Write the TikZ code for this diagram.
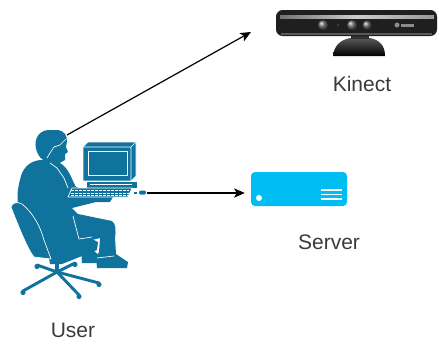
\documentclass[tikz,border=0pt]{standalone}
\usepackage{fontspec}
\newfontfamily\labelfont{Liberation Sans}
\usetikzlibrary{arrows.meta,positioning,calc}

\definecolor{userblue}{HTML}{10739E}
\definecolor{serverblue}{HTML}{00BEF2}
\definecolor{labelgrey}{HTML}{3A3A3A}

\tikzset{
  lbl/.style={font=\labelfont\fontsize{15.75}{18}\selectfont, text=labelgrey, inner sep=0pt},
  link/.style={line width=0.9pt, -{Stealth[length=8pt,width=7pt,inset=2pt]}},
  silhouette/.style={fill=userblue, draw=white, line width=0.5pt, line join=round},
  detail/.style={draw=white, line width=0.5pt, line join=round},
  serverbox/.style={fill=serverblue, rounded corners=3pt, minimum width=72pt,
    minimum height=25.5pt, inner sep=0pt},
}

\begin{document}
\begin{tikzpicture}[x=0.75pt,y=-0.75pt]
  \useasboundingbox (0,0) rectangle (439,343);

  % kinect: stand
  \path[top color=black!65, bottom color=black] (333,56) .. controls (334,46) and (340,40) .. (350,38)
    -- (370,38) .. controls (380,40) and (385,46) .. (385,56) -- cycle;
  \fill[black!80] (351,34) rectangle (369,39);
  % kinect: bar
  \fill[black!88, rounded corners=5pt] (276,10) rectangle (437,36);
  \shade[left color=black!55, right color=black!40, middle color=black!20] (280,15.5) rectangle (434,18);
  \fill[black!65] (281,32.5) rectangle (432,34.5);
  \foreach \lx/\lr in {323/5, 352/5, 367/4.5}{
    \shade[ball color=black!55] (\lx,25) circle[radius=\lr];
  }
  \fill[green!60!black] (338,25) circle[radius=0.9];
  \fill[black!45] (397,25) circle[radius=2.5];
  \fill[black!45] (401,23.5) rectangle (414,26.5);

  % server
  \node[serverbox] (server) at (299,189) {};
  \fill[white] (259,198) circle[radius=3];
  \foreach \ly in {190,194.5,199}{
    \draw[white, line width=1pt] (321,\ly) -- (342,\ly);
  }

  % user: chair seat, post and legs
  \fill[userblue] (48,252) -- (90,238) -- (98,242) -- (97,250) -- (62,264) -- (50,264) -- cycle;
  \draw[userblue, line width=2.6pt] (57,260) -- (57,272);
  \foreach \tx/\ty in {23/291, 79/295, 99/283, 37/265, 75/263}{
    \draw[userblue, line width=2.2pt, line cap=round] (57,272) -- (\tx,\ty);
    \fill[userblue] (\tx,\ty+1.5) circle[radius=2.6];
  }
  % user: far leg
  \fill[userblue] (80,236) -- (92,236) -- (93,250) -- (101,257) -- (100,263) -- (82,263) -- cycle;
  % user: body
  \fill[userblue] (42,160) .. controls (32,160) and (24,166) .. (21,176)
    .. controls (17,190) and (16,200) .. (20,212)
    -- (46,254) -- (62,252) -- (92,240) -- (100,238)
    -- (99,252) -- (96,258) -- (97,268) -- (127,268) -- (128,262) -- (116,254) -- (115,238)
    .. controls (116,230) and (116,224) .. (112,221)
    -- (78,214) -- (72,208)
    -- (96,202) -- (110,202) -- (113,197) -- (106,192) -- (98,193) -- (76,187)
    .. controls (72,180) and (70,172) .. (64,166)
    -- (60,163) -- cycle;
  \draw[detail] (73,216) -- (79,239) -- (92,237);
  \draw[detail] (97,258) -- (114,256);
  % user: head
  \fill[userblue] (37,152) .. controls (33,142) and (37,131) .. (48,130)
    -- (58,130) .. controls (64,131) and (67,135) .. (67,141)
    -- (66,147) -- (68,152) -- (65,154) -- (65,160) -- (58,164) -- (48,163)
    .. controls (42,160) and (39,157) .. cycle;
  \draw[detail] (66,139) -- (60,145) -- (54,147) -- (50,153) -- (47,158);
  \draw[detail] (50,163) -- (57,168) -- (64,178) -- (68,188);
  % user: chair back
  \path[silhouette] (11,207) .. controls (12,203) and (17,201) .. (22,204)
    .. controls (32,212) and (40,225) .. (44,240) -- (51,259)
    -- (34,257) .. controls (28,250) and (18,225) .. cycle;

  % user: computer
  \path[silhouette] (83,147) -- (88,142) -- (136,142) -- (136,176) -- (131,181) -- (83,181) -- cycle;
  \draw[detail] (83,147) -- (131,147) -- (131,181) (131,147) -- (136,142);
  \path[silhouette] (88,151) rectangle (127,175);
  \path[silhouette] (86,181) rectangle (137,188);
  \draw[detail] (90,184.5) -- (132,184.5);
  \path[silhouette] (72,188) -- (132,188) -- (128,197) -- (68,197) -- cycle;
  \foreach \k in {190.5,193,195.5}{
    \draw[white, line width=0.4pt, dash pattern=on 2pt off 1pt] (71,\k) -- (129,\k);
  }
  \fill[userblue] (134,192) rectangle (137,193.5);
  \fill[userblue, rounded corners=1pt] (139,190.5) rectangle (146,194.5);

  % labels
  \node[lbl] (kinect-label) at (362,84) {Kinect};
  \node[lbl] (server-label) at (329,242) {Server};
  \node[lbl] (user-label) at (73,330) {User};

  % connectors
  \coordinate (gaze) at (67,135);
  \coordinate (kinect-in) at (251,32);
  \coordinate (desk) at (147,193);
  \draw[link] (gaze) -- (kinect-in);
  \draw[link, shorten >=4.5pt] (desk) -- (desk -| server.west);
\end{tikzpicture}
\end{document}
